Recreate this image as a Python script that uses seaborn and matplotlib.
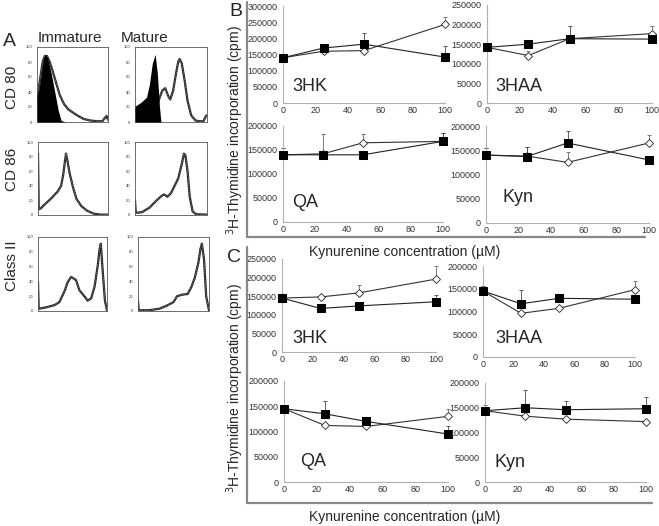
import matplotlib
matplotlib.use("Agg")
import matplotlib.pyplot as plt
from matplotlib.lines import Line2D
import seaborn as sns

sns.set_style("white")
plt.rcParams['font.family'] = ['Liberation Sans', 'DejaVu Sans']

W, H = 659, 526

# ---- panel A: flow cytometry histograms ----
cd80_imm_x = [0.0, 0.04, 0.08, 0.11, 0.14, 0.18, 0.22, 0.27, 0.32, 0.38, 0.44, 0.5, 0.58, 0.66, 0.75, 0.85, 0.92, 0.96, 0.98, 1.0]
cd80_imm_y = [30, 55, 80, 88, 88, 80, 68, 52, 36, 24, 17, 13, 8, 4, 2, 1, 1, 6, 8, 3]
cd80_imm_iso_x = [0.0, 0.03, 0.06, 0.09, 0.12, 0.15, 0.2, 0.25, 0.3, 0.34, 0.4]
cd80_imm_iso_y = [35, 45, 65, 85, 90, 85, 65, 40, 15, 2, 0]

cd80_mat_x = [0.0, 0.15, 0.26, 0.3, 0.34, 0.38, 0.42, 0.46, 0.49, 0.53, 0.57, 0.6, 0.62, 0.65, 0.69, 0.73, 0.78, 0.84, 0.9, 0.95, 0.98, 1.0]
cd80_mat_y = [15, 25, 40, 20, 32, 42, 45, 35, 30, 42, 65, 80, 84, 78, 55, 28, 9, 2, 1, 1, 7, 9]
cd80_mat_iso_x = [0.0, 0.08, 0.16, 0.2, 0.24, 0.28, 0.31, 0.34, 0.36]
cd80_mat_iso_y = [21, 26, 33, 50, 78, 90, 65, 20, 0]

cd86_imm_x = [0.0, 0.01, 0.04, 0.1, 0.16, 0.22, 0.28, 0.33, 0.36, 0.38, 0.4, 0.42, 0.45, 0.5, 0.55, 0.62, 0.7, 0.79, 0.9, 1.0]
cd86_imm_y = [85, 8, 9, 15, 20, 26, 32, 40, 55, 70, 84, 75, 58, 38, 22, 12, 6, 2, 0.5, 0.5]

cd86_mat_x = [0.0, 0.01, 0.03, 0.1, 0.2, 0.3, 0.38, 0.41, 0.45, 0.5, 0.6, 0.65, 0.68, 0.7, 0.73, 0.76, 0.8, 0.85, 1.0]
cd86_mat_y = [20, 4, 3, 4, 10, 20, 27, 28, 25, 30, 50, 70, 84, 82, 60, 25, 5, 1, 0.5]

cl2_imm_x = [0.0, 0.01, 0.12, 0.24, 0.31, 0.39, 0.43, 0.48, 0.55, 0.6, 0.68, 0.72, 0.77, 0.82, 0.87, 0.89, 0.91, 0.93, 0.97, 1.0]
cl2_imm_y = [39, 3, 5, 8, 12, 28, 39, 46, 42, 28, 19, 14, 17, 33, 64, 82, 91, 64, 14, 1]

cl2_mat_x = [0.0, 0.01, 0.05, 0.15, 0.3, 0.4, 0.5, 0.55, 0.62, 0.7, 0.75, 0.8, 0.85, 0.88, 0.9, 0.93, 0.96, 1.0]
cl2_mat_y = [14, 1, 1, 1, 3, 7, 12, 20, 22, 23, 32, 45, 65, 84, 91, 70, 20, 1]

# ---- panels B and C: proliferation ----
conc = [0, 25, 50, 100]

b_3hk_sq = [140000, 170000, 182000, 142000]
b_3hk_sq_err = [8000, 6000, 34000, 33000]
b_3hk_di = [140000, 160000, 162000, 243000]
b_3hk_di_err = [12000, 4000, 4000, 23000]

b_3haa_sq = [142000, 150000, 164000, 163000]
b_3haa_sq_err = [12000, 10000, 33000, 0]
b_3haa_di = [142000, 121000, 164000, 177000]
b_3haa_di_err = [12000, 12000, 0, 19000]

b_qa_sq = [140000, 140000, 140000, 168000]
b_qa_sq_err = [15000, 0, 0, 18000]
b_qa_di = [140000, 142000, 165000, 168000]
b_qa_di_err = [15000, 41000, 19000, 18000]

b_kyn_sq = [140000, 137000, 165000, 130000]
b_kyn_sq_err = [15000, 19000, 24000, 0]
b_kyn_di = [140000, 138000, 125000, 165000]
b_kyn_di_err = [15000, 19000, 22000, 16000]

c_3hk_sq = [145000, 117000, 124000, 135000]
c_3hk_sq_err = [0, 0, 0, 18000]
c_3hk_di = [145000, 148000, 159000, 196000]
c_3hk_di_err = [10000, 0, 21000, 36000]

c_3haa_sq = [145000, 117000, 129000, 127000]
c_3haa_sq_err = [10000, 31000, 0, 0]
c_3haa_di = [145000, 96000, 107000, 148000]
c_3haa_di_err = [10000, 0, 0, 20000]

c_qa_sq = [145000, 135000, 120000, 95000]
c_qa_sq_err = [5000, 25000, 0, 15000]
c_qa_di = [145000, 112000, 110000, 130000]
c_qa_di_err = [5000, 0, 0, 15000]

c_kyn_sq = [144000, 150000, 146000, 148000]
c_kyn_sq_err = [11000, 35000, 17000, 24000]
c_kyn_di = [144000, 133000, 127000, 122000]
c_kyn_di_err = [0, 0, 0, 0]


def px_axes(fig, l, t, r, b):
    return fig.add_axes([l / W, 1 - b / H, (r - l) / W, (b - t) / H])


def fx(x):
    return x / W


def fy(y):
    return 1 - y / H


fig = plt.figure(figsize=(W / 100, H / 100), dpi=100)


def histo(ax, x, y, iso=None):
    sns.lineplot(x=x, y=y, ax=ax, color='#222222', lw=1.6, sort=False)
    ax.plot(x, y, color='white', lw=0.4, ls=(0, (1, 2)))
    if iso is not None:
        ax.fill_between(iso[0], iso[1], 0, color='black', lw=0, zorder=3)
    ax.set_xlim(0, 1)
    ax.set_ylim(0, 100)
    ax.set_yticks([0, 20, 40, 60, 80, 100])
    ax.set_xticks([0, 0.25, 0.5, 0.75, 1.0])
    ax.set_xticks([i / 20 for i in range(21)], minor=True)
    ax.set_xticklabels([])
    ax.tick_params(axis='y', labelsize=3, length=1.5, width=0.4, pad=2, colors='#333333')
    ax.tick_params(axis='x', which='both', length=1.2, width=0.4, colors='#555555')
    for s in ax.spines.values():
        s.set_visible(True)
        s.set_color('#555555')
        s.set_linewidth(0.6)
    ax.set_xlabel('')
    ax.set_ylabel('')


a1 = px_axes(fig, 37, 47, 108, 122)
histo(a1, cd80_imm_x, cd80_imm_y, (cd80_imm_iso_x, cd80_imm_iso_y))
a2 = px_axes(fig, 135, 47, 207, 122)
histo(a2, cd80_mat_x, cd80_mat_y, (cd80_mat_iso_x, cd80_mat_iso_y))
a3 = px_axes(fig, 38, 142, 108, 215)
histo(a3, cd86_imm_x, cd86_imm_y)
a4 = px_axes(fig, 135, 142, 207, 215)
histo(a4, cd86_mat_x, cd86_mat_y)
a5 = px_axes(fig, 38, 237, 107, 311)
histo(a5, cl2_imm_x, cl2_imm_y)
a6 = px_axes(fig, 138, 237, 209, 311)
histo(a6, cl2_mat_x, cl2_mat_y)

fig.text(fx(3), fy(42), 'A', fontsize=14, va='center', ha='left')
fig.text(fx(70), fy(38), 'Immature', fontsize=11, va='center', ha='center')
fig.text(fx(145), fy(38), 'Mature', fontsize=11, va='center', ha='center')
fig.text(fx(12), fy(87), 'CD 80', fontsize=11, rotation=90, va='center', ha='center')
fig.text(fx(12), fy(169), 'CD 86', fontsize=11, rotation=90, va='center', ha='center')
fig.text(fx(12), fy(266), 'Class II', fontsize=11, rotation=90, va='center', ha='center')


def prolif(box, ymax, sq, sq_err, di, di_err, name, lx, ly):
    ax = px_axes(fig, *box)
    zero = [0] * len(conc)
    ax.errorbar(conc, di, yerr=[zero, di_err], fmt='none', ecolor='#666666',
                elinewidth=0.6, capsize=1.5, capthick=0.6, clip_on=False, zorder=2)
    ax.errorbar(conc, sq, yerr=[zero, sq_err], fmt='none', ecolor='#444444',
                elinewidth=0.6, capsize=1.5, capthick=0.6, clip_on=False, zorder=2)
    sns.lineplot(x=conc, y=di, ax=ax, color='#333333', lw=0.8, marker='D',
                 markersize=4, markerfacecolor='white', markeredgecolor='#222222',
                 markeredgewidth=0.6, clip_on=False, zorder=3)
    sns.lineplot(x=conc, y=sq, ax=ax, color='#222222', lw=0.8, marker='s',
                 markersize=5.5, markerfacecolor='black', markeredgecolor='black',
                 clip_on=False, zorder=4)
    ax.set_xlim(0, 100)
    ax.set_ylim(0, ymax)
    ax.set_xticks([0, 20, 40, 60, 80, 100])
    ax.set_yticks(list(range(0, ymax + 1, 50000)))
    ax.set_yticklabels([str(v) for v in range(0, ymax + 1, 50000)])
    ax.tick_params(labelsize=6.5, length=2, width=0.6, colors='#aaaaaa',
                   labelcolor='#333333', pad=2)
    ax.tick_params(axis='x', direction='in', length=2)
    for s in ['top', 'right']:
        ax.spines[s].set_visible(False)
    for s in ['left', 'bottom']:
        ax.spines[s].set_color('#b0b0b0')
        ax.spines[s].set_linewidth(0.8)
    ax.set_xlabel('')
    ax.set_ylabel('')
    ax.text(lx, ly, name, transform=ax.transAxes, fontsize=13, va='center', ha='left')
    return ax


prolif((283, 6, 445, 103), 300000, b_3hk_sq, b_3hk_sq_err, b_3hk_di, b_3hk_di_err, '3HK', 0.06, 0.17)
prolif((487, 5, 652, 103), 250000, b_3haa_sq, b_3haa_sq_err, b_3haa_di, b_3haa_di_err, '3HAA', 0.05, 0.17)
prolif((283, 126, 443, 222), 200000, b_qa_sq, b_qa_sq_err, b_qa_di, b_qa_di_err, 'QA', 0.06, 0.2)
prolif((486, 126, 649, 223), 200000, b_kyn_sq, b_kyn_sq_err, b_kyn_di, b_kyn_di_err, 'Kyn', 0.1, 0.26)

prolif((282, 259, 436, 352), 250000, c_3hk_sq, c_3hk_sq_err, c_3hk_di, c_3hk_di_err, '3HK', 0.07, 0.15)
prolif((483, 266, 635, 357), 200000, c_3haa_sq, c_3haa_sq_err, c_3haa_di, c_3haa_di_err, '3HAA', 0.08, 0.2)
prolif((284, 381, 448, 482), 200000, c_qa_sq, c_qa_sq_err, c_qa_di, c_qa_di_err, 'QA', 0.1, 0.2)
prolif((485, 383, 646, 482), 200000, c_kyn_sq, c_kyn_sq_err, c_kyn_di, c_kyn_di_err, 'Kyn', 0.06, 0.2)

# panel frames
frame = dict(color='#888888', lw=1.6, transform=fig.transFigure)
fig.add_artist(Line2D([fx(247), fx(247)], [fy(2), fy(237)], **frame))
fig.add_artist(Line2D([fx(247), fx(645)], [fy(237), fy(237)], **frame))
fig.add_artist(Line2D([fx(247), fx(247)], [fy(247), fy(503)], **frame))
fig.add_artist(Line2D([fx(247), fx(652)], [fy(503), fy(503)], **frame))

fig.text(fx(236), fy(12), 'B', fontsize=14, va='center', ha='center')
fig.text(fx(234), fy(258), 'C', fontsize=14, va='center', ha='center')
fig.text(fx(405), fy(252), 'Kynurenine concentration (µM)', fontsize=10, va='center', ha='center')
fig.text(fx(405), fy(517), 'Kynurenine concentration (µM)', fontsize=10, va='center', ha='center')
fig.text(fx(235), fy(130), '$^{3}$H-Thymidine incorporation (cpm)', fontsize=10,
         rotation=90, va='center', ha='center')
fig.text(fx(235), fy(388), '$^{3}$H-Thymidine incorporation (cpm)', fontsize=10,
         rotation=90, va='center', ha='center')

fig.savefig('out.png', dpi=100)
